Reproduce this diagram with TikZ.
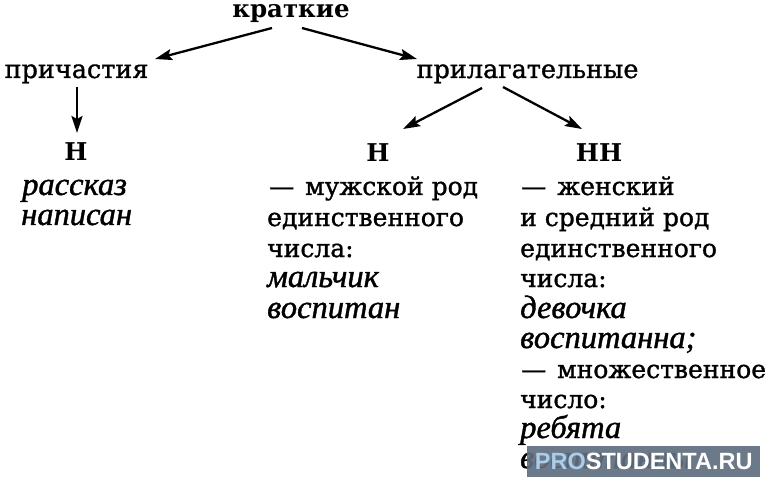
\documentclass[tikz,border=0pt]{standalone}
\usepackage{fontspec}
\setmainfont{DejaVu Serif}
\newfontfamily\heavy{DejaVu Serif}[FakeBold=1.2]
\newfontfamily\itf{Liberation Serif}[ItalicFeatures={FakeBold=1.2}]
\newfontfamily\wmfont{Liberation Sans}
\usetikzlibrary{arrows.meta}
\definecolor{wmbg}{RGB}{96,110,126}
\definecolor{wmblue}{RGB}{170,205,235}
\newcommand{\dashgap}{—\hspace{11pt}}
\begin{document}
\begin{tikzpicture}[x=1pt,y=-1pt,
  txt/.style={inner sep=0pt,anchor=base west,font=\heavy\fontsize{25}{25}\selectfont},
  itx/.style={inner sep=0pt,anchor=base west,font=\itf\itshape\fontsize{32.5}{32.5}\selectfont},
  hdr/.style={inner sep=0pt,anchor=base,font=\fontsize{24.5}{24.5}\selectfont\bfseries},
  lbl/.style={inner sep=0pt,anchor=base,font=\heavy\fontsize{25.5}{25.5}\selectfont},
  arr/.style={line width=2.3pt,-{Stealth[length=17pt,width=11pt,inset=3pt]}}]
\useasboundingbox (0,0) rectangle (770,486);
% headings
\node[hdr] (krat) at (291,18) {краткие};
\node[lbl] (prich) at (76.5,78) {причастия};
\node[lbl] (prilag) at (527.5,78) {прилагательные};
\node[hdr] (hL) at (76,161) {Н};
\node[hdr] (hM) at (378,162) {Н};
\node[hdr] (hR) at (599,162) {НН};
% left column
\node[itx] (l1) at (22,195) {рассказ};
\node[itx] (l2) at (21,225) {написан};
% middle column
\node[txt] (m1) at (269,195) {\dashgap мужской род};
\node[txt] (m2) at (267,226) {единственного};
\node[txt] (m3) at (267,257) {числа:};
\node[itx] (m4) at (267,287) {мальчик};
\node[itx] (m5) at (267,318) {воспитан};
% right column
\node[txt] (r1) at (521,195) {\dashgap женский};
\node[txt] (r2) at (520,226) {и средний род};
\node[txt] (r3) at (520,257) {единственного};
\node[txt] (r4) at (520,287) {числа:};
\node[itx] (r5) at (520,318) {девочка};
\node[itx] (r6) at (520,348) {воспитанна;};
\node[txt] (r7) at (521,378) {\dashgap множественное};
\node[txt] (r8) at (520,408) {число:};
\node[itx] (r9) at (520,438) {ребята};
\node[itx] (r10) at (520,468) {воспитанны};
% arrows
\draw[arr] ([shift={(-19,10)}]krat.base) -- ([shift={(78.5,-19)}]prich.base);
\draw[arr] ([shift={(11,10)}]krat.base) -- ([shift={(-110.5,-19)}]prilag.base);
\draw[arr] ([shift={(0.5,9)}]prich.base) -- ([shift={(1,-28)}]hL.base);
\draw[arr] ([shift={(-45.5,10)}]prilag.base) -- ([shift={(25,-33)}]hM.base);
\draw[arr] ([shift={(-24.5,9)}]prilag.base) -- ([shift={(-17,-33)}]hR.base);
% watermark
\node[fill=wmbg,fill opacity=0.92,text opacity=1,inner sep=0pt,anchor=north west,
  minimum width=233pt,minimum height=31pt,font=\wmfont\bfseries\fontsize{23.5}{23.5}\selectfont,text=white]
  (wm) at (527,446) {\textcolor{wmblue}{PRO}STUDENTA.RU};
\end{tikzpicture}
\end{document}
